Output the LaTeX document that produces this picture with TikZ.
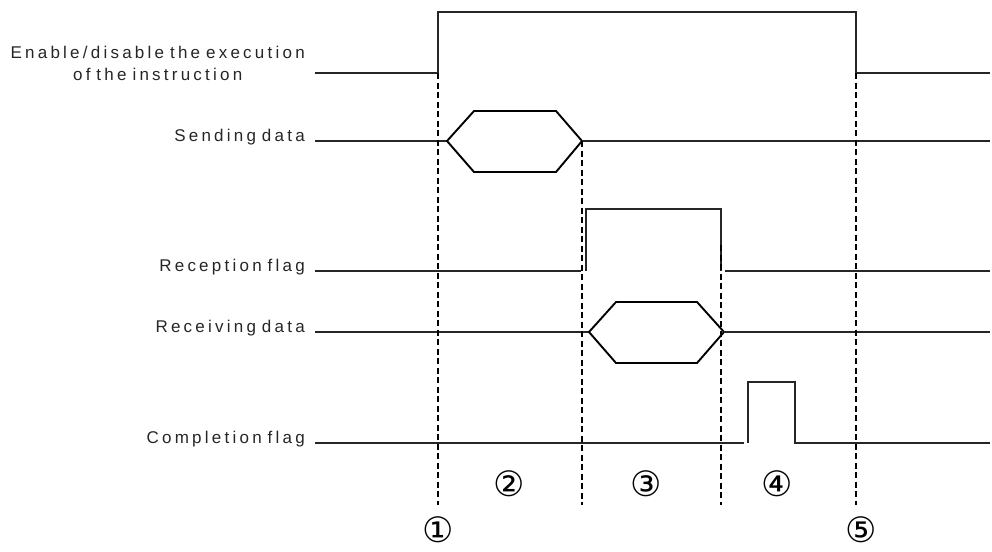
\documentclass[tikz,border=0pt]{standalone}
\usepackage{fontspec}
\setmainfont{Liberation Sans}
\newfontfamily\lblfont[LetterSpace=19,WordSpace=0.75]{Liberation Sans}
\newfontfamily\numfont{DejaVu Sans}
\begin{document}
\begin{tikzpicture}[x=1pt,y=-1pt,
  sig/.style={line width=1.3pt,black!85},
  hexa/.style={line width=1.9pt,black},
  guide/.style={line width=1.9pt,dash pattern=on 6pt off 3.5pt},
  lbl/.style={anchor=east,align=center,font=\lblfont\fontsize{17}{22}\selectfont,text=black!85,inner sep=0pt},
  num/.style={font=\numfont\fontsize{35}{35}\selectfont,inner sep=0pt}]
\useasboundingbox (0,0) rectangle (992,551);
% labels
\node[lbl] (l1) at (305,63) {Enable/disable the execution\\of the instruction};
\node[lbl] (l2) at (305,137) {Sending data};
\node[lbl] (l3) at (305,267) {Reception flag};
\node[lbl] (l4) at (305,328) {Receiving data};
\node[lbl] (l5) at (305,439) {Completion flag};
% enable signal
\draw[sig] (315,73) -- (438,73) -- (438,12) -- (856,12) -- (856,73) -- (990,73);
% sending data
\draw[sig] (315,141) -- (447,141);
\draw[hexa] (447,141) -- (474,111) -- (556,111) -- (582,141) -- (556,172) -- (474,172) -- cycle;
\draw[sig] (582,141) -- (990,141);
% reception flag
\draw[sig] (315,271) -- (581,271);
\draw[sig] (586,271) -- (586,209) -- (721,209) -- (721,271);
\draw[sig] (725,271) -- (990,271);
% receiving data
\draw[sig] (315,332) -- (589,332);
\draw[hexa] (589,332) -- (616,302) -- (697,302) -- (724,332) -- (697,363) -- (616,363) -- cycle;
\draw[sig] (724,332) -- (990,332);
% completion flag
\draw[sig] (315,443) -- (744,443);
\draw[sig] (748,443) -- (748,382) -- (795,382) -- (795,443) -- (990,443);
% guides
\draw[guide] (438,73) -- (438,505);
\draw[guide] (582,141) -- (582,505);
\draw[guide] (721,245) -- (721,505);
\draw[guide] (856,73) -- (856,505);
% numbers
\node[num] (n1) at (438,530) {①};
\node[num] (n2) at (509,484) {②};
\node[num] (n3) at (646,484) {③};
\node[num] (n4) at (777,484) {④};
\node[num] (n5) at (861,530) {⑤};
\end{tikzpicture}
\end{document}
